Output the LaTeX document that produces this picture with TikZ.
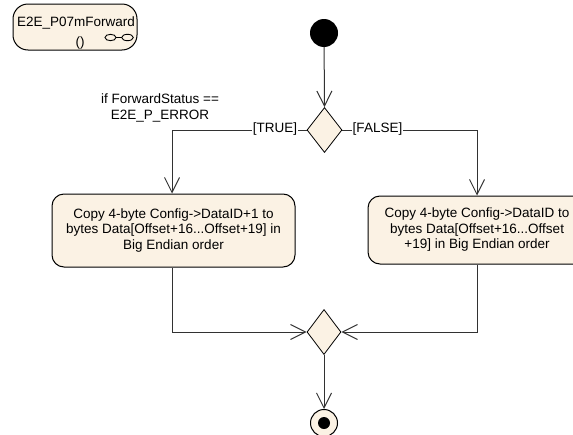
\documentclass[tikz,border=0pt]{standalone}
\usepackage{fontspec}
\setmainfont{Liberation Sans}
\usetikzlibrary{shapes.geometric,arrows.meta}
\definecolor{umlfill}{RGB}{251,242,228}
\definecolor{umlline}{RGB}{50,50,50}
\begin{document}
\begin{tikzpicture}[x=1pt,y=-1pt,
  every node/.style={font=\fontsize{13.5}{15.5}\selectfont},
  action/.style={draw=black,line width=1pt,fill=umlfill,rectangle,rounded corners=12pt,align=center,inner sep=0pt},
  decision/.style={draw=black,line width=0.8pt,fill=umlfill,diamond,inner sep=0pt,minimum width=35pt,minimum height=45pt},
  flow/.style={draw=umlline,line width=1pt,-{Straight Barb[length=15pt,width=15pt,line width=1pt]}},
  guard/.style={fill=white,inner sep=0.5pt}
]
\useasboundingbox (0,0) rectangle (573,434);
\clip (0,0) rectangle (573,434);
% activity frame label
\node[action,rounded corners=15pt,minimum width=124pt,minimum height=46pt] (act) at (75,27) {};
\node (actname) at (76,23) {E2E\_P07mForward};
\node (actpar) at (80,43) {()};
\draw[line width=0.9pt] (110.5,37.5) ellipse (5.5 and 3.2);
\draw[line width=0.9pt] (127.5,37.5) ellipse (5.8 and 3.2);
\draw[line width=0.9pt] (116,37.5) -- (121.7,37.5);
% start
\node[circle,fill=black,minimum size=28pt,inner sep=0pt] (start) at (324,33) {};
% decision
\node[decision] (dec) at (324.5,130) {};
\coordinate (lc) at (172,130);
\coordinate (rc) at (477,130);
% actions
\node[action,minimum width=243pt,minimum height=73pt] (left) at (173.5,230.5)
  {Copy 4-byte Config->DataID+1 to\\bytes Data[Offset+16...Offset+19] in\\Big Endian order};
\node[action,minimum width=218pt,minimum height=68pt] (right) at (477,230)
  {Copy 4-byte Config->DataID to\\bytes Data[Offset+16...Offset\\+19] in Big Endian order};
% merge
\node[decision,minimum width=34pt] (merge) at (324,332) {};
\coordinate (lb) at (172,332);
\coordinate (rb) at (477,332);
% final
\node[circle,draw=black,line width=1pt,fill=umlfill,minimum size=27pt,inner sep=0pt] (final) at (324,423) {};
\node[circle,fill=black,minimum size=12pt,inner sep=0pt] (finaldot) at (324,423) {};
% guard text
\node[align=center] (guardtxt) at (160,108) {if ForwardStatus ==\\E2E\_P\_ERROR};
% flows
\draw[flow] (start) -- (dec.north);
\draw[flow] (dec.west) -- (lc) -- (left.north -| lc);
\draw[flow] (dec.east) -- (rc) -- (right.north);
\node[guard] (tl) at (275,129) {[TRUE]};
\node[guard] (fl) at (377.5,129) {[FALSE]};
\draw[flow] (left.south -| lb) -- (lb) -- (merge.west);
\draw[flow] (right.south) -- (rb) -- (merge.east);
\draw[flow] (merge.south) -- (final.north);
\end{tikzpicture}
\end{document}
